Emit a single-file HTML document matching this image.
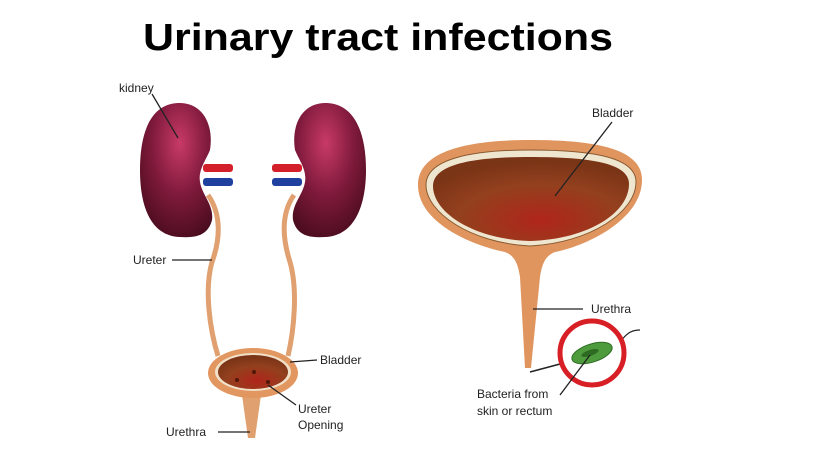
<!DOCTYPE html>
<html><head><meta charset="utf-8"><style>
html,body{margin:0;padding:0;background:#fff;}
svg{display:block;}
text{font-family:"Liberation Sans",sans-serif;fill:#222;}
</style></head><body>
<svg width="820" height="450" viewBox="0 0 820 450" xmlns="http://www.w3.org/2000/svg">
<defs>
<radialGradient id="kid" cx="0.55" cy="0.3" r="0.85">
<stop offset="0" stop-color="#c83a68"/><stop offset="0.45" stop-color="#801a3c"/><stop offset="1" stop-color="#3a0815"/>
</radialGradient>
<radialGradient id="kid2" cx="0.45" cy="0.3" r="0.85">
<stop offset="0" stop-color="#c83a68"/><stop offset="0.45" stop-color="#801a3c"/><stop offset="1" stop-color="#3a0815"/>
</radialGradient>
<radialGradient id="bl" cx="0.55" cy="0.75" r="0.7">
<stop offset="0" stop-color="#b0251a"/><stop offset="0.6" stop-color="#93401e"/><stop offset="1" stop-color="#7a3416"/>
</radialGradient>
</defs>
<text x="378" y="50" font-size="38" font-weight="bold" text-anchor="middle" textLength="470" lengthAdjust="spacingAndGlyphs" style="fill:#000">Urinary tract infections</text>

<!-- ureters -->
<path d="M208,195 C222,215 220,240 212,262 C204,290 210,330 218,356" stroke="#e0a070" stroke-width="5" fill="none"/>
<path d="M294,195 C280,215 283,240 290,262 C298,290 294,330 288,356" stroke="#e0a070" stroke-width="5" fill="none"/>
<!-- vessels -->
<rect x="203" y="164" width="30" height="8" rx="3" fill="#d3202a"/>
<rect x="203" y="178" width="30" height="8" rx="3" fill="#2040a0"/>
<rect x="272" y="164" width="30" height="8" rx="3" fill="#d3202a"/>
<rect x="272" y="178" width="30" height="8" rx="3" fill="#2040a0"/>
<!-- kidneys -->
<path d="M178,103 C203,102 214,125 210,150 C206,160 198,170 200,182 C202,195 214,205 212,220 C208,236 195,238 180,237 C150,236 140,205 140,170 C140,130 152,104 178,103 Z" fill="url(#kid)"/>
<path d="M327,103 C302,102 291,125 295,150 C299,160 307,170 305,182 C303,195 291,205 293,220 C297,236 310,238 325,237 C355,236 366,205 366,170 C366,130 353,104 327,103 Z" fill="url(#kid2)"/>

<!-- small bladder -->
<path d="M246,392 L242,395 L248,438 L255,438 L261,395 L257,392 Z" fill="#e0a070"/>
<ellipse cx="253" cy="373" rx="45" ry="25" fill="#e29760"/>
<ellipse cx="253" cy="372" rx="38" ry="19" fill="#f0e0c8"/>
<ellipse cx="253" cy="372" rx="35" ry="17" fill="url(#bl)"/>
<circle cx="237" cy="380" r="2" fill="#501808"/><circle cx="254" cy="372" r="2" fill="#501808"/><circle cx="268" cy="382" r="2" fill="#501808"/>

<!-- big bladder -->
<path d="M418,185 C418,150 470,140 530,140 C600,140 642,150 642,180 C642,218 590,245 555,252 C545,256 542,264 540,277 L531,368 L525,368 L520,277 C518,264 515,256 505,252 C470,245 418,222 418,185 Z" fill="#e0955f"/>
<path d="M426,185 C426,158 475,150 530,150 C595,150 636,158 636,182 C636,212 590,243 530,246 C470,243 426,212 426,185 Z" fill="#efe6cf" stroke="#8a5a30" stroke-width="1"/>
<path d="M433,186 C433,163 478,157 530,157 C590,157 629,163 629,184 C629,212 590,239 530,241 C472,239 433,212 433,186 Z" fill="url(#bl)"/>

<!-- bacteria -->
<line x1="530" y1="372" x2="560" y2="364" stroke="#222" stroke-width="1.5"/>
<path d="M612,348 C625,340 625,330 640,330" stroke="#222" stroke-width="1.2" fill="none"/>
<circle cx="592" cy="353" r="32" fill="#fff" stroke="#d81f26" stroke-width="5"/>
<ellipse cx="592" cy="353" rx="21" ry="9" transform="rotate(-18 592 353)" fill="#4e9b3e" stroke="#2e6b22" stroke-width="1"/>
<ellipse cx="590" cy="353" rx="9" ry="3" transform="rotate(-18 590 353)" fill="#2e6b22"/>

<!-- leaders -->
<g stroke="#222" stroke-width="1.3" fill="none">
<line x1="152" y1="94" x2="178" y2="138"/>
<line x1="172" y1="260" x2="212" y2="260"/>
<line x1="290" y1="362" x2="317" y2="360"/>
<line x1="268" y1="385" x2="296" y2="405"/>
<line x1="218" y1="432" x2="250" y2="432"/>
<line x1="612" y1="122" x2="555" y2="196"/>
<line x1="533" y1="309" x2="583" y2="309"/>
<line x1="560" y1="395" x2="590" y2="355"/>
</g>
<g font-size="12">
<text x="119" y="92">kidney</text>
<text x="133" y="264">Ureter</text>
<text x="320" y="364">Bladder</text>
<text x="298" y="413">Ureter</text>
<text x="298" y="429">Opening</text>
<text x="166" y="436">Urethra</text>
<text x="592" y="117">Bladder</text>
<text x="591" y="313">Urethra</text>
<text x="477" y="398">Bacteria from</text>
<text x="477" y="415">skin or rectum</text>
</g>
</svg>
</body></html>
